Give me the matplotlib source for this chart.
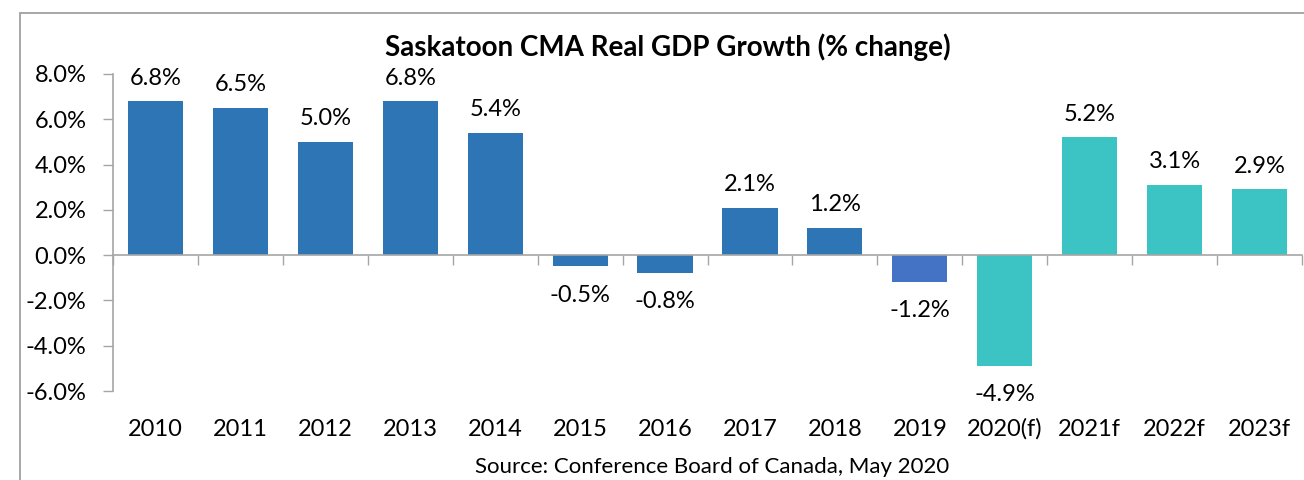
import matplotlib
matplotlib.use("Agg")
import matplotlib.pyplot as plt
import matplotlib.transforms as mtransforms
from matplotlib.patches import Rectangle
import numpy as np

plt.rcParams["font.family"] = ["Lato", "DejaVu Sans"]

# Data
years = ["2010", "2011", "2012", "2013", "2014", "2015", "2016", "2017",
         "2018", "2019", "2020(f)", "2021f", "2022f", "2023f"]
growth = [6.8, 6.5, 5.0, 6.8, 5.4, -0.5, -0.8, 2.1, 1.2, -1.2, -4.9, 5.2, 3.1, 2.9]
kind = ["actual"] * 9 + ["recent"] + ["forecast"] * 4

palette = {"actual": "#2E75B6", "recent": "#4472C4", "forecast": "#3CC4C4"}
colors = [palette[k] for k in kind]
axis_grey = "#A6A6A6"
fs = 17

fig = plt.figure(figsize=(13.04, 4.8), dpi=100)
ax = fig.add_axes([113 / 1304, 1 - 391 / 480, (1302 - 113) / 1304, (391 - 74) / 480])

x = np.arange(len(years))
ax.bar(x, growth, width=0.65, color=colors, zorder=2)

ax.set_xlim(-0.5, len(years) - 0.5)
ax.set_ylim(-6, 8)
ax.set_yticks(np.arange(-6, 9, 2))
ax.set_yticklabels([f"{v:.1f}%" for v in np.arange(-6, 9, 2)], fontsize=fs)
ax.tick_params(axis="y", length=7, width=1, color=axis_grey, pad=12)

# category axis sits at zero, ticks at the category boundaries
for side in ["top", "right"]:
    ax.spines[side].set_visible(False)
ax.spines["bottom"].set_position(("data", 0))
for side in ["left", "bottom"]:
    ax.spines[side].set_color(axis_grey)
    ax.spines[side].set_linewidth(1.2)
ax.set_xticks(np.arange(-0.5, len(years), 1.0))
ax.set_xticklabels([])
ax.tick_params(axis="x", length=7, width=1, color=axis_grey, direction="out")

trans = mtransforms.blended_transform_factory(ax.transData, ax.transAxes)
for xi, lab in zip(x, years):
    ax.text(xi, -0.12, lab, transform=trans, ha="center", va="center", fontsize=fs)

for xi, v in zip(x, growth):
    if v >= 0:
        ax.annotate(f"{v:.1f}%", (xi, v), xytext=(0, 9), textcoords="offset points",
                    ha="center", va="bottom", fontsize=fs)
    else:
        ax.annotate(f"{v:.1f}%", (xi, v), xytext=(0, -13), textcoords="offset points",
                    ha="center", va="top", fontsize=fs)

fig.text(668 / 1304, 1 - 47 / 480, "Saskatoon CMA Real GDP Growth (% change)",
         ha="center", va="center", fontsize=20, fontweight="bold")
fig.text(712 / 1304, 1 - 467 / 480, "Source: Conference Board of Canada, May 2020",
         ha="center", va="center", fontsize=16)

# chart frame (cut off at right and bottom in the reference)
fig.add_artist(Rectangle((20 / 1304, -0.1), 1.2, 1 - 13 / 480 + 0.1,
                         transform=fig.transFigure, fill=False,
                         edgecolor="#A0A0A0", linewidth=1.3))

fig.savefig("out.png", dpi=100)
